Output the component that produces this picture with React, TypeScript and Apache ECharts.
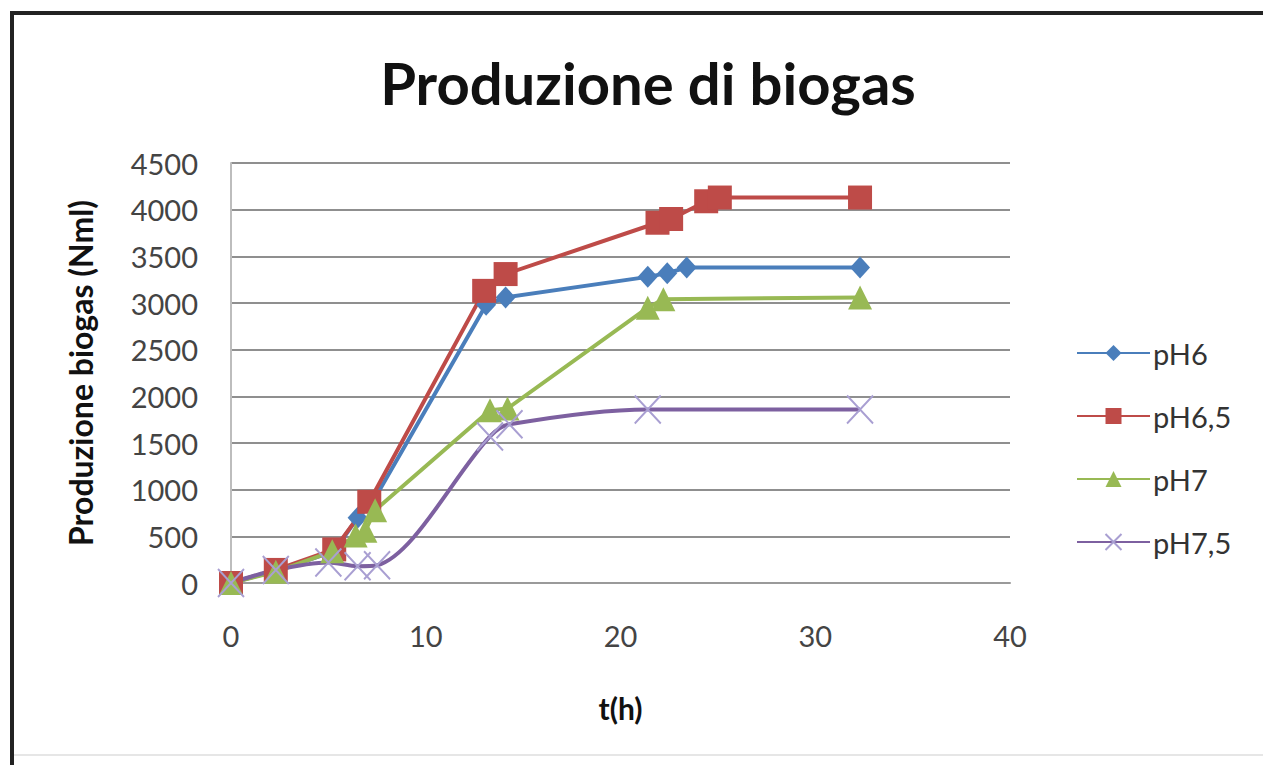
import React, { useEffect, useRef } from "react";
import * as echarts from "echarts";

const seriesNames = ["pH6", "pH6,5", "pH7", "pH7,5"];
const xTicks = [0, 10, 20, 30, 40];
const yTicks = [0, 500, 1000, 1500, 2000, 2500, 3000, 3500, 4000, 4500];

const ph6: [number, number][] = [
  [0, 0], [2.3, 130], [5.3, 340], [6.5, 700], [7.2, 840], [13.1, 2980],
  [14.1, 3060], [21.4, 3280], [22.4, 3320], [23.4, 3380], [32.3, 3380],
];
const ph65: [number, number][] = [
  [0, 0], [2.3, 140], [5.3, 360], [7.1, 870], [13.0, 3130], [14.1, 3310],
  [21.9, 3860], [22.6, 3900], [24.4, 4090], [25.1, 4130], [32.3, 4130],
];
const ph7: [number, number][] = [
  [0, 0], [2.3, 120], [5.2, 340], [6.4, 510], [6.9, 560], [7.4, 780],
  [13.3, 1850], [14.2, 1870], [21.4, 2950], [22.2, 3040], [32.3, 3060],
];
const ph75: [number, number][] = [
  [0, 0], [2.3, 140], [5.0, 220], [6.5, 180], [7.5, 190], [13.3, 1570],
  [14.3, 1700], [21.4, 1860], [32.3, 1860],
];

const colors = ["#4A7EBB", "#BE4B48", "#98B954", "#7D60A0"];
const FONT = "Lato, 'Open Sans', sans-serif";

export default function App() {
  const ref = useRef<HTMLDivElement>(null);
  useEffect(() => {
    document.body.style.margin = "0";
    const chart = echarts.init(ref.current!, null, { renderer: "svg" });
    const xMark = "path://M0,0L10,10M10,0L0,10";
    chart.setOption({
      animation: false,
      backgroundColor: "#ffffff",
      textStyle: { fontFamily: FONT },
      title: {
        text: "Produzione di biogas",
        left: 643,
        top: 48,
        textAlign: "center",
        textStyle: { fontFamily: FONT, fontWeight: "bold", fontSize: 58, color: "#111" },
      },
      graphic: [
        {
          type: "line",
          shape: { x1: 10, y1: 13, x2: 1263, y2: 13 },
          style: { stroke: "#222", lineWidth: 4 },
          silent: true,
        },
        {
          type: "line",
          shape: { x1: 12, y1: 11, x2: 12, y2: 765 },
          style: { stroke: "#222", lineWidth: 4 },
          silent: true,
        },
        {
          type: "line",
          shape: { x1: 14, y1: 755, x2: 1263, y2: 755 },
          style: { stroke: "#e6e6e6", lineWidth: 2 },
          silent: true,
        },
      ],
      legend: {
        orient: "vertical",
        left: 1076,
        top: 338,
        padding: 0,
        itemWidth: 73,
        itemHeight: 20,
        itemGap: 33,
        data: seriesNames,
        textStyle: { fontFamily: FONT, fontSize: 29, color: "#333", lineHeight: 30, padding: [0, 0, 0, -2] },
      },
      grid: { left: 231, right: 253, top: 163, bottom: 182 },
      xAxis: {
        type: "value",
        min: xTicks[0],
        max: xTicks[xTicks.length - 1],
        interval: 10,
        name: "t(h)",
        nameLocation: "middle",
        nameGap: 110,
        nameTextStyle: { fontFamily: FONT, fontWeight: "bold", fontSize: 30, color: "#111" },
        axisLine: { show: true, onZero: false, lineStyle: { color: "#9a9a9a", width: 2 } },
        axisTick: { show: false },
        splitLine: { show: false },
        axisLabel: { fontFamily: FONT, fontSize: 29, color: "#444", margin: 38 },
      },
      yAxis: {
        type: "value",
        min: yTicks[0],
        max: yTicks[yTicks.length - 1],
        interval: 500,
        name: "Produzione biogas (Nml)",
        nameLocation: "middle",
        nameGap: 135,
        nameTextStyle: { fontFamily: FONT, fontWeight: "bold", fontSize: 32, color: "#111" },
        axisLine: { show: true, lineStyle: { color: "#bdbdbd", width: 2 } },
        axisTick: { show: false },
        splitLine: { show: true, lineStyle: { color: "#8f8f8f", width: 2 } },
        axisLabel: {
          fontFamily: FONT, fontSize: 29, color: "#444", margin: 33,
          formatter: (v: number) => String(v),
        },
      },
      series: [
        {
          name: seriesNames[0], type: "line", data: ph6,
          symbol: "diamond", symbolSize: [20, 22],
          lineStyle: { color: colors[0], width: 4 },
          itemStyle: { color: colors[0] },
        },
        {
          name: seriesNames[1], type: "line", data: ph65,
          symbol: "rect", symbolSize: 24,
          lineStyle: { color: colors[1], width: 4 },
          itemStyle: { color: colors[1] },
        },
        {
          name: seriesNames[2], type: "line", data: ph7,
          symbol: "triangle", symbolSize: [24, 24],
          lineStyle: { color: colors[2], width: 4 },
          itemStyle: { color: colors[2] },
        },
        {
          name: seriesNames[3], type: "line", data: ph75, smooth: 0.3,
          symbol: xMark, symbolSize: [26, 28],
          lineStyle: { color: colors[3], width: 4 },
          itemStyle: { color: "none", borderColor: "#a99fd2", borderWidth: 2 },
        },
      ],
    });
    return () => chart.dispose();
  }, []);
  return (
    <div
      ref={ref}
      style={{ position: "absolute", left: 0, top: 0, width: 1263, height: 765 }}
    />
  );
}
